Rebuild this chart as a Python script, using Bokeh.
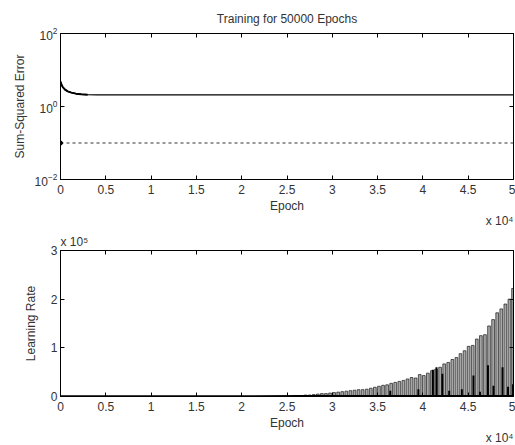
from bokeh.plotting import figure
from bokeh.layouts import column
from bokeh.models import Range1d, FixedTicker, LinearAxis, LogAxis, Title
from bokeh.embed import file_html
from bokeh.resources import INLINE

FONT = "Liberation Sans"

# ---------------- data ----------------
x_ticks = [0, 5000, 10000, 15000, 20000, 25000, 30000, 35000, 40000, 45000, 50000]
x_tick_labels = ["0", "0.5", "1", "1.5", "2", "2.5", "3", "3.5", "4", "4.5", "5"]

err_epochs = [0, 100, 250, 500, 800, 1200, 1700, 2300, 3000, 4000, 50000]
err_values = [4.8, 4.0, 3.4, 2.9, 2.6, 2.4, 2.25, 2.15, 2.1, 2.08, 2.08]
goal_epochs = [0, 50000]
goal_values = [0.1, 0.1]

err_ticks = [0.01, 1, 100]

lr_base_epochs = [0, 26500, 50000]
lr_base_values = [500, 800, 800]

lr_peak_epochs = [26600, 27050, 27500, 27950, 28400, 28850, 29300, 29750, 30200, 30650,
                  31100, 31550, 32000, 32450, 32900, 33350, 33800, 34250, 34700, 35150,
                  35600, 36050, 36500, 36950, 37400, 37850, 38300, 38750, 39200, 39650,
                  40100, 40550, 41000, 41450, 41900, 42350, 42800, 43250, 43700, 44150,
                  44600, 45050, 45500, 45950, 46400, 46850, 47300, 47750, 48200, 48650,
                  49100, 49550, 49950]
lr_peak_values = [2e3, 3e3, 3e3, 4e3, 5e3, 6e3, 6e3, 7e3, 8e3, 9e3,
                  1.0e4, 1.1e4, 1.2e4, 1.3e4, 1.4e4, 1.4e4, 1.5e4, 1.7e4, 1.9e4, 2.1e4,
                  2.3e4, 2.4e4, 2.7e4, 2.9e4, 3.1e4, 3.3e4, 3.6e4, 3.9e4, 3.8e4, 4.5e4,
                  4.3e4, 4.8e4, 5.3e4, 5.6e4, 6.0e4, 6.7e4, 7.0e4, 7.6e4, 8.0e4, 8.8e4,
                  9.4e4, 1.03e5, 1.05e5, 1.18e5, 1.25e5, 1.27e5, 1.45e5, 1.58e5, 1.72e5, 1.8e5,
                  1.9e5, 2.0e5, 2.22e5]

lr_low_epochs = [36400, 39500, 41100, 41500, 42150, 42900, 44300, 45580, 46300, 47180,
                 47790, 48790, 49400, 49950]
lr_low_values = [1.2e4, 1.5e4, 5.5e4, 6.0e4, 4.7e4, 1.2e4, 1.5e4, 4.3e4, 1.0e4, 6.4e4,
                 2.2e4, 6.0e4, 2.0e4, 2.5e4]

lr_ticks = [0, 100000, 200000, 300000]
lr_tick_labels = ["0", "1", "2", "3"]

TXT = "#333333"


def style_axis(ax):
    ax.major_tick_in = 4
    ax.major_tick_out = 0
    ax.minor_tick_in = 0
    ax.minor_tick_out = 0
    ax.axis_line_color = "black"
    ax.major_tick_line_color = "black"
    ax.major_label_text_font = FONT
    ax.major_label_text_font_size = "12px"
    ax.major_label_text_color = TXT
    ax.axis_label_text_font = FONT
    ax.axis_label_text_font_size = "12px"
    ax.axis_label_text_font_style = "normal"
    ax.axis_label_text_color = TXT
    ax.major_label_standoff = 3


def side_title(text, align, standoff):
    return Title(text=text, align=align, text_font=FONT, text_font_size="12px",
                 text_font_style="normal", text_color=TXT, standoff=standoff)


W = 515
LB = 60
RB = 2
H1 = 231
H2 = 214

# ---------------- top plot ----------------
p1 = figure(width=W, height=H1, x_range=Range1d(0, 50000), y_range=Range1d(1e-2, 1e2),
            y_axis_type="log", output_backend="svg", toolbar_location=None,
            min_border_left=LB, min_border_right=RB, min_border_top=33, min_border_bottom=52,
            title="Training for 50000 Epochs")
p1.title.align = "center"
p1.title.text_font = FONT
p1.title.text_font_size = "12px"
p1.title.text_font_style = "normal"
p1.title.text_color = TXT
p1.title.standoff = 15
p1.grid.visible = False
p1.outline_line_color = "black"

p1.xaxis.ticker = FixedTicker(ticks=x_ticks)
p1.xaxis.major_label_overrides = {t: s for t, s in zip(x_ticks, x_tick_labels)}
p1.xaxis.axis_label = "Epoch"
p1.yaxis.ticker = FixedTicker(ticks=err_ticks)
p1.yaxis.axis_label = "Sum-Squared Error"
style_axis(p1.xaxis[0])
style_axis(p1.yaxis[0])
p1.xaxis.major_label_standoff = 5
p1.xaxis.axis_label_standoff = 2
p1.yaxis.axis_label_standoff = 5

top_ax = LinearAxis(ticker=FixedTicker(ticks=x_ticks),
                    major_label_overrides={t: "" for t in x_ticks})
style_axis(top_ax)
top_ax.major_label_standoff = 0
p1.add_layout(top_ax, "above")
right_ax = LogAxis(ticker=FixedTicker(ticks=err_ticks),
                   major_label_overrides={t: "" for t in err_ticks})
style_axis(right_ax)
right_ax.major_label_standoff = 0
p1.add_layout(right_ax, "right")
p1.add_layout(side_title("x 10\u2074", "right", -7), "below")

p1.line(err_epochs, err_values, line_color="black", line_width=1.2)
p1.line(err_epochs[:9], err_values[:9], line_color="black", line_width=2)
p1.line(goal_epochs, goal_values, line_color="#333333", line_width=1, line_dash="3 3")
p1.scatter(goal_epochs[:1], goal_values[:1], size=4, color="black")

# ---------------- bottom plot ----------------
p2 = figure(width=W, height=H2, x_range=Range1d(0, 50000), y_range=Range1d(0, 300000),
            output_backend="svg", toolbar_location=None,
            min_border_left=LB, min_border_right=RB, min_border_top=19, min_border_bottom=49)
p2.grid.visible = False
p2.outline_line_color = "black"
p2.xaxis.ticker = FixedTicker(ticks=x_ticks)
p2.xaxis.major_label_overrides = {t: s for t, s in zip(x_ticks, x_tick_labels)}
p2.xaxis.axis_label = "Epoch"
p2.yaxis.ticker = FixedTicker(ticks=lr_ticks)
p2.yaxis.major_label_overrides = {t: s for t, s in zip(lr_ticks, lr_tick_labels)}
p2.yaxis.axis_label = "Learning Rate"
style_axis(p2.xaxis[0])
style_axis(p2.yaxis[0])
p2.xaxis.major_label_standoff = 5
p2.xaxis.axis_label_standoff = 2
p2.yaxis.axis_label_standoff = 10

top_ax2 = LinearAxis(ticker=FixedTicker(ticks=x_ticks),
                     major_label_overrides={t: "" for t in x_ticks})
style_axis(top_ax2)
top_ax2.major_label_standoff = 0
p2.add_layout(top_ax2, "above")
right_ax2 = LinearAxis(ticker=FixedTicker(ticks=lr_ticks),
                       major_label_overrides={t: "" for t in lr_ticks})
style_axis(right_ax2)
right_ax2.major_label_standoff = 0
p2.add_layout(right_ax2, "right")
p2.add_layout(side_title("x 10\u2075", "left", 3), "above")
p2.add_layout(side_title("x 10\u2074", "right", -7), "below")

p2.vbar(x=lr_peak_epochs, top=lr_peak_values, bottom=0, width=300,
        fill_color="#a8a8a8", line_color="#1a1a1a", line_width=0.7)
p2.segment(x0=lr_low_epochs, y0=[0] * len(lr_low_epochs), x1=lr_low_epochs, y1=lr_low_values,
           line_color="black", line_width=2)
p2.line(lr_base_epochs, lr_base_values, line_color="black", line_width=2)

layout = column(p1, p2, spacing=0)
open("out.html", "w").write(file_html(layout, INLINE))
